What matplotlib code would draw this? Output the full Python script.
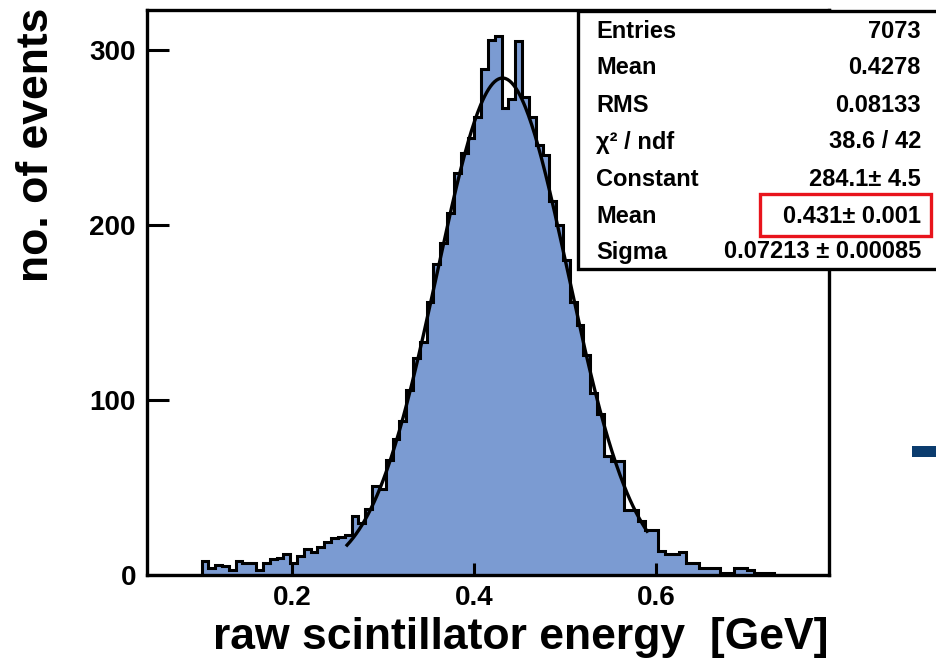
import numpy as np
import matplotlib
matplotlib.use("Agg")
import matplotlib.pyplot as plt
from matplotlib.patches import Rectangle

plt.rcParams["font.family"] = ["Liberation Sans", "DejaVu Sans"]
plt.rcParams["font.weight"] = "bold"

# histogram: 100 bins from 0.04 to 0.79 GeV
x_lo, x_hi, n_bins = 0.04, 0.79, 100
counts = [
    0, 0, 0, 0, 0, 0, 0, 0, 8, 4,
    6, 5, 3, 8, 7, 7, 3, 7, 9, 10,
    12, 7, 11, 15, 13, 16, 19, 21, 22, 23,
    34, 30, 38, 51, 49, 66, 78, 88, 106, 124,
    133, 156, 178, 190, 207, 230, 241, 250, 262, 289,
    306, 308, 267, 272, 305, 273, 262, 246, 240, 214,
    200, 180, 156, 143, 126, 104, 92, 68, 65, 65,
    37, 37, 31, 26, 26, 14, 12, 12, 13, 7,
    7, 4, 4, 4, 1, 1, 4, 4, 3, 1,
    1, 1, 0, 0, 0, 0, 0, 0, 0, 0,
]

# gaussian fit results
fit_const = 284.1
fit_mean = 0.431
fit_sigma = 0.07213
fit_range = (0.26, 0.59)

stat_labels = ["Entries", "Mean", "RMS", "χ² / ndf", "Constant", "Mean", "Sigma"]
stat_values = ["7073", "0.4278", "0.08133", "38.6 / 42", "284.1± 4.5",
               "0.431± 0.001", "0.07213 ± 0.00085"]

W, H = 937, 659
fig = plt.figure(figsize=(W / 100, H / 100), dpi=100)
ax = fig.add_axes([147 / W, 1 - 575 / H, (829 - 147) / W, (575 - 10) / H])

edges = np.linspace(x_lo, x_hi, n_bins + 1)
ax.stairs(counts, edges, fill=True, color="#7b9bd2", lw=0)
ax.stairs(counts, edges, color="black", lw=2.2)

xf = np.linspace(fit_range[0], fit_range[1], 300)
yf = fit_const * np.exp(-0.5 * ((xf - fit_mean) / fit_sigma) ** 2)
ax.plot(xf, yf, color="black", lw=2.4)

ax.set_xlim(x_lo, x_hi)
ax.set_ylim(0, 323)
ax.set_xticks([0.2, 0.4, 0.6])
ax.set_xticklabels(["0.2", "0.4", "0.6"])
ax.set_yticks([0, 100, 200, 300])
for s in ax.spines.values():
    s.set_linewidth(2.4)
ax.tick_params(axis="x", direction="in", length=9, width=2.2, pad=7, labelsize=20)
ax.tick_params(axis="y", direction="in", length=16, width=2.2, pad=8, labelsize=20)

ax.set_xlabel("raw scintillator energy  [GeV]", fontsize=32, fontweight="bold")
ax.xaxis.set_label_coords(1.0, -0.075)
ax.xaxis.label.set_horizontalalignment("right")
fig.text(37 / W, 1 - 8 / H, "no. of events", rotation=90, ha="center", va="top",
         fontsize=32, fontweight="bold")

# stats box
fig.patches.append(Rectangle((578 / W, 1 - 269 / H), (950 - 578) / W, (269 - 11) / H,
                             transform=fig.transFigure, facecolor="white",
                             edgecolor="black", lw=2.4, zorder=5))
row_y = [31, 68, 105, 142, 180, 216, 252]
for yy, lab, val in zip(row_y, stat_labels, stat_values):
    fig.text(596 / W, 1 - yy / H, lab, ha="left", va="center", fontsize=17, zorder=6)
    fig.text(921 / W, 1 - yy / H, val, ha="right", va="center", fontsize=17, zorder=6)

fig.patches.append(Rectangle((760 / W, 1 - 236 / H), (931 - 760) / W, (236 - 194) / H,
                             transform=fig.transFigure, facecolor="none",
                             edgecolor="#e8141c", lw=2.4, zorder=7))

# dark blue bar at right edge
fig.patches.append(Rectangle((912 / W, 1 - 457 / H), (940 - 912) / W, 11 / H,
                             transform=fig.transFigure, facecolor="#0b3c6e",
                             edgecolor="none", zorder=5))

fig.savefig("out.png", dpi=100)
plt.close(fig)
